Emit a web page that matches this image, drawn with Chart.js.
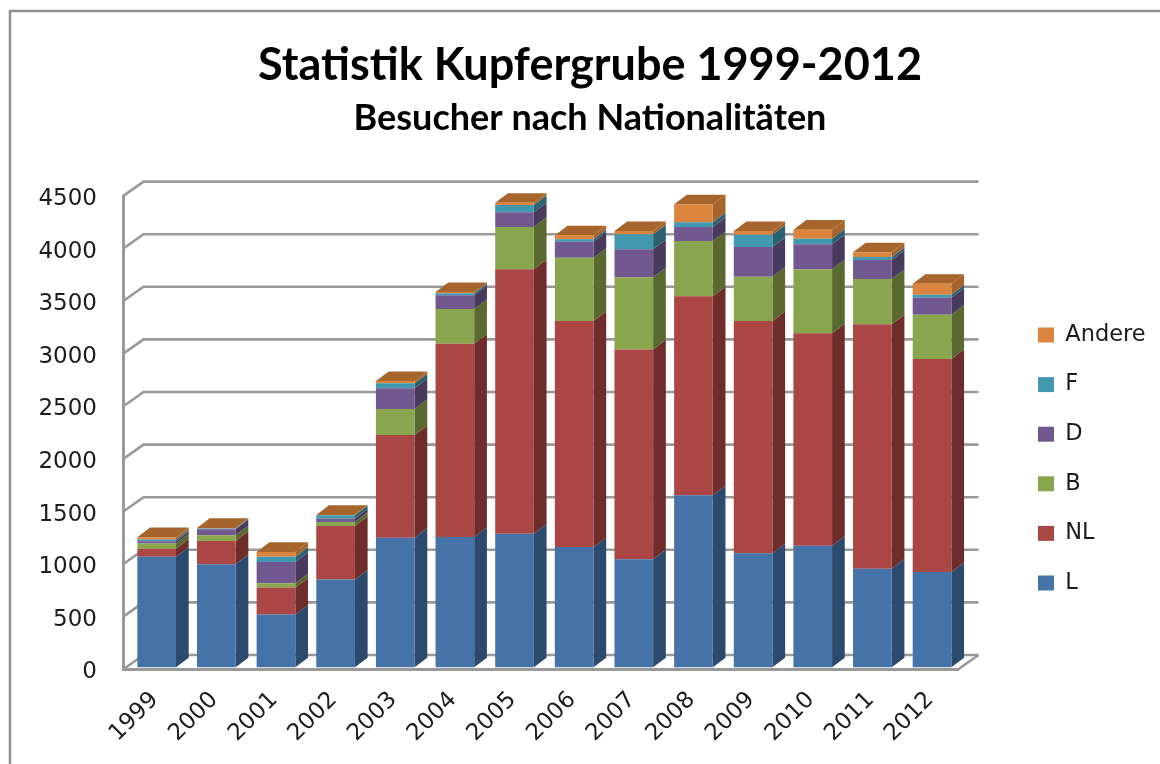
<!DOCTYPE html>
<html lang="de">
<head>
<meta charset="utf-8">
<title>Statistik Kupfergrube 1999-2012</title>
<script src="https://cdn.jsdelivr.net/npm/chart.js@4"></script>
<style>html,body{margin:0;padding:0;background:#fff}canvas{display:block}</style>
</head>
<body>
<canvas id="c" width="1160" height="764"></canvas>
<script>
const years = ['1999','2000','2001','2002','2003','2004','2005','2006','2007','2008','2009','2010','2011','2012'];
const L      = [1050, 980, 501, 834,1232,1239,1270,1143,1026,1635,1083,1156, 937, 906];
const NL     = [  78, 221, 257, 510, 976,1837,2513,2149,1996,1891,2209,2019,2323,2025];
const B      = [  49,  55,  41,  38, 247, 330, 403, 601, 685, 526, 421, 608, 431, 421];
const D      = [  22,  57, 203,  33, 197, 130, 139, 153, 266, 134, 282, 238, 181, 161];
const F      = [  16,   7,  48,  31,  48,  19,  69,  22, 143,  44, 117,  53,  28,  29];
const Andere = [  22,   5,  47,   2,  21,  12,  22,  38,  31, 171,  35,  86,  45, 104];

const GRID = '#999999', FRAME = '#8f8f8f', TEXT = '#1c1c1c';
const WALL = {dx: 20.5, dy: -14.5};
const BAR  = {dx: 3.85, dy: -2.2, sideX: 12.7, sideY: -9.6};
const SIDE = {L:'#2c4a6e', NL:'#6e2d2b', B:'#59692f', D:'#49395d', F:'#2a6272', Andere:'#a6652d'};
const TOP  = '#a6652d';

const scene = {
  id: 'scene',
  beforeLayout(chart) {
    const lg = chart.legend;
    if (lg && !lg.$fixed) {
      const fit = lg.fit.bind(lg);
      lg.fit = function () { fit(); this.width = 202; };
      lg.$fixed = true;
    }
  },
  afterLayout(chart) {
    const lg = chart.legend, pad = lg.options.labels.padding;
    const w = lg.right - lg.left, h = lg.bottom - lg.top;
    lg.left = 1038 - pad; lg.right = lg.left + w;
    lg.top += 77; lg.bottom = lg.top + h;
    chart.boxes.forEach(b => {
      if (b.options && b.options.text && b.options.position === 'top') { b.left += 10; b.right += 10; }
    });
  },
  beforeDraw(chart) {
    const c = chart.ctx;
    c.save();
    c.strokeStyle = FRAME; c.lineWidth = 2.5;
    c.beginPath(); c.moveTo(10, 764); c.lineTo(10, 11); c.lineTo(1160, 11); c.stroke();
    c.restore();
  },
  beforeDatasetsDraw(chart) {
    const c = chart.ctx, {x, y} = chart.scales;
    // back wall grid lines follow the value scale
    c.save();
    c.strokeStyle = GRID; c.lineWidth = 2.6; c.lineJoin = 'round';
    y.ticks.forEach(t => {
      const py = y.getPixelForValue(t.value);
      c.beginPath();
      c.moveTo(x.left, py);
      c.lineTo(x.left + WALL.dx, py + WALL.dy);
      c.lineTo(x.right + WALL.dx, py + WALL.dy);
      c.stroke();
    });
    const p0 = y.getPixelForValue(0);
    c.beginPath(); c.moveTo(x.right, p0); c.lineTo(x.right + WALL.dx, p0 + WALL.dy); c.stroke();
    c.restore();

    c.save();
    c.translate(BAR.dx, BAR.dy);
    // sides and top caps of every stack, read from the library's bar elements
    const n = chart.data.datasets.length;
    chart.data.datasets.forEach((ds, di) => {
      chart.getDatasetMeta(di).data.forEach(el => {
        const r = el.x + el.width / 2, t = Math.min(el.y, el.base), b = Math.max(el.y, el.base);
        c.fillStyle = ds.sideColor;
        c.beginPath();
        c.moveTo(r, b); c.lineTo(r + BAR.sideX, b + BAR.sideY);
        c.lineTo(r + BAR.sideX, t + BAR.sideY); c.lineTo(r, t);
        c.closePath(); c.fill();
        if (di === n - 1) {
          const l = el.x - el.width / 2;
          c.fillStyle = TOP;
          c.beginPath();
          c.moveTo(l, t); c.lineTo(r, t);
          c.lineTo(r + BAR.sideX, t + BAR.sideY); c.lineTo(l + BAR.sideX, t + BAR.sideY);
          c.closePath(); c.fill();
        }
      });
    });
  },
  afterDatasetsDraw(chart) { chart.ctx.restore(); }
};

function series(label, data, color, sideColor) {
  return {label, data, backgroundColor: color, sideColor, borderWidth: 0, clip: false,
          categoryPercentage: 1, barPercentage: 0.648};
}

new Chart(document.getElementById('c'), {
  type: 'bar',
  data: {
    labels: years,
    datasets: [
      series('L', L, '#4572a7', SIDE.L),
      series('NL', NL, '#aa4643', SIDE.NL),
      series('B', B, '#89a54e', SIDE.B),
      series('D', D, '#71588f', SIDE.D),
      series('F', F, '#4198af', SIDE.F),
      series('Andere', Andere, '#db843d', SIDE.Andere)
    ]
  },
  plugins: [scene],
  options: {
    responsive: false,
    animation: false,
    layout: {padding: 0},
    plugins: {
      tooltip: {enabled: false},
      title: {display: true, text: 'Statistik Kupfergrube 1999-2012', color: '#000',
        font: {family: 'Lato', size: 45, weight: 'bold', lineHeight: 1.2},
        padding: {top: 38, bottom: 0}},
      subtitle: {display: true, text: 'Besucher nach Nationalitäten', color: '#000',
        font: {family: 'Lato', size: 36, weight: 'bold', lineHeight: 1.2},
        padding: {top: 4.4, bottom: 56.5}},
      legend: {position: 'right', reverse: true,
        labels: {boxWidth: 16, boxHeight: 15, padding: 27.1, color: TEXT,
          font: {family: 'DejaVu Sans', size: 22.5}}}
    },
    scales: {
      x: {stacked: true,
        grid: {display: false},
        border: {display: true, color: GRID, width: 3},
        ticks: {color: TEXT, font: {family: 'DejaVu Sans', size: 23}, minRotation: 45, maxRotation: 45, padding: 9, labelOffset: 2, autoSkip: false},
        afterFit(s) { s.height = 94.5; }
      },
      y: {stacked: true, min: 0, max: 4500,
        grid: {display: false},
        border: {display: true, color: GRID, width: 3},
        ticks: {stepSize: 500, color: TEXT, font: {family: 'DejaVu Sans', size: 23}, padding: 18, labelOffset: 3, callback: v => String(v)},
        afterFit(s) { s.width = 123; }
      }
    }
  }
});
</script>
</body>
</html>
